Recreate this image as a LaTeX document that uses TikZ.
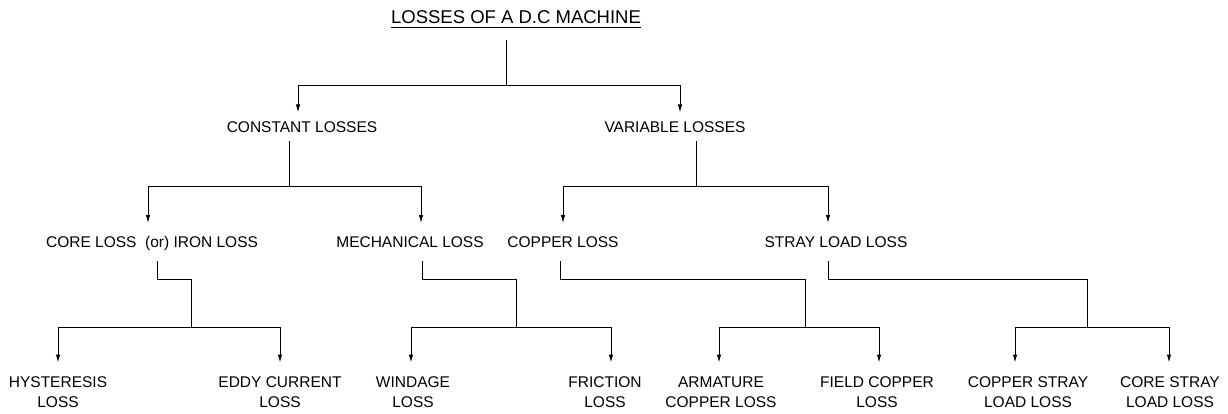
\documentclass[tikz,border=0pt]{standalone}
\usepackage{fontspec}
\setmainfont{Liberation Sans}
\usetikzlibrary{arrows.meta}
\begin{document}
\begin{tikzpicture}[x=1pt,y=-1pt,>={Latex[length=8pt,width=4.5pt]},line width=1pt,
 every node/.style={font=\fontsize{15.5}{20}\selectfont,inner xsep=0pt},
 head/.style={font=\fontsize{18.5}{22}\selectfont,text height=13pt,text depth=0pt,inner ysep=16pt},
 lone/.style={text height=11pt,text depth=0pt,inner ysep=8.5pt},
 ltwo/.style={text height=11pt,text depth=0pt,inner ysep=13pt},
 leaf/.style={align=center,inner ysep=13.5pt}]
 \useasboundingbox (0,0) rectangle (1228,414);
 % titles
 \node[head] (title) at (516,17.5) {LOSSES OF A D.C MACHINE};
 \draw ([yshift=-4pt]title.base west) -- ([yshift=-4pt]title.base east);
 \node[lone] (const) at (302,127) {CONSTANT LOSSES};
 \node[lone] (var) at (675,127) {VARIABLE LOSSES};
 \node[ltwo] (core) at (152,242) {CORE LOSS\ \ (or) IRON LOSS};
 \node[ltwo] (mech) at (410,242) {MECHANICAL LOSS};
 \node[ltwo] (copper) at (563,242) {COPPER LOSS};
 \node[ltwo] (stray) at (836,242) {STRAY LOAD LOSS};
 \node[leaf] (hyst) at (58,392) {HYSTERESIS\\LOSS};
 \node[leaf] (eddy) at (280,392) {EDDY CURRENT\\LOSS};
 \node[leaf] (wind) at (413,392) {WINDAGE\\LOSS};
 \node[leaf] (fric) at (605,392) {FRICTION\\LOSS};
 \node[leaf] (arm) at (721,392) {ARMATURE\\COPPER LOSS};
 \node[leaf] (field) at (877,392) {FIELD COPPER\\LOSS};
 \node[leaf] (cstray) at (1028,392) {COPPER STRAY\\LOAD LOSS};
 \node[leaf] (kstray) at (1170,392) {CORE STRAY\\LOAD LOSS};
 % junctions
 \coordinate (j0) at (506,86);
 \coordinate (j1) at (289,187);
 \coordinate (j2) at (696,187);
 \coordinate (k3) at (157,279); \coordinate (j3) at (191,327);
 \coordinate (k4) at (422,279); \coordinate (j4) at (516,327);
 \coordinate (k5) at (560,279); \coordinate (j5) at (805,327);
 \coordinate (k6) at (828,279); \coordinate (j6) at (1087,327);
 % level 1
 \draw (title.south -| j0) -- (j0);
 \draw[->] (j0) -| ([xshift=-4pt]const.north);
 \draw[->] (j0) -| ([xshift=5pt]var.north);
 % level 2
 \draw (const.south -| j1) -- (j1);
 \draw[->] (j1) -| ([xshift=-4pt]core.north);
 \draw[->] (j1) -| ([xshift=11pt]mech.north);
 \draw (var.south -| j2) -- (j2);
 \draw[->] (j2) -| (copper.north);
 \draw[->] (j2) -| ([xshift=-8pt]stray.north);
 % level 3
 \draw (core.south -| k3) -- (k3) -| (j3);
 \draw[->] (j3) -| (hyst.north);
 \draw[->] (j3) -| (eddy.north);
 \draw (mech.south -| k4) -- (k4) -| (j4);
 \draw[->] (j4) -| ([xshift=-2pt]wind.north);
 \draw[->] (j4) -| ([xshift=6pt]fric.north);
 \draw (copper.south -| k5) -- (k5) -| (j5);
 \draw[->] (j5) -| ([xshift=-2pt]arm.north);
 \draw[->] (j5) -| ([xshift=2pt]field.north);
 \draw (stray.south -| k6) -- (k6) -| (j6);
 \draw[->] (j6) -| ([xshift=-13pt]cstray.north);
 \draw[->] (j6) -| ([xshift=-1pt]kstray.north);
\end{tikzpicture}
\end{document}
